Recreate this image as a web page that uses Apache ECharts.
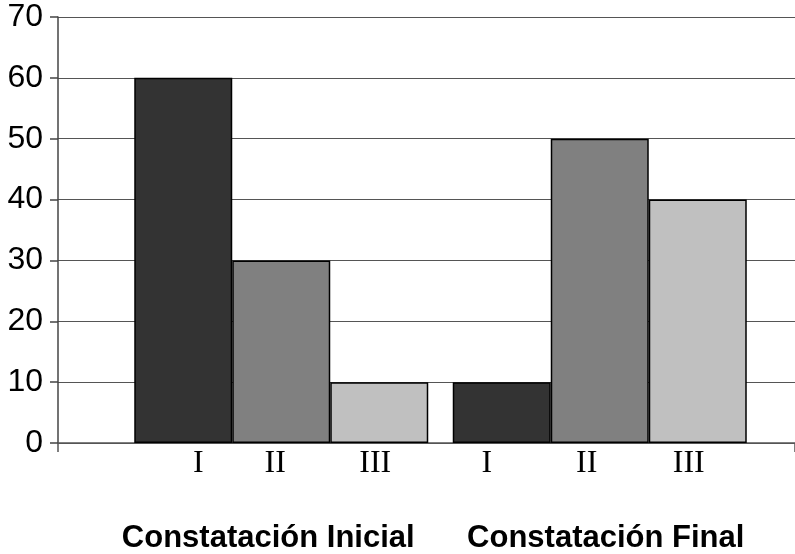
<!DOCTYPE html>
<html>
<head>
<meta charset="utf-8">
<script src="https://cdn.jsdelivr.net/npm/echarts@6/dist/echarts.min.js"></script>
<style>html,body{margin:0;padding:0;background:#fff}#c{width:795px;height:554px}</style>
</head>
<body>
<div id="c"></div>
<script>
const categories = ['Constatación Inicial', 'Constatación Final'];
const seriesNames = ['I', 'II', 'III'];
const valuesI = [60, 10];
const valuesII = [30, 50];
const valuesIII = [10, 40];
const yTicks = { min: 0, max: 70, interval: 10 };

const colors = ['#333333', '#808080', '#c0c0c0'];
const labelShift = [[15, -15], [-6, -13], [-4, -9]];
const seriesValues = [valuesI, valuesII, valuesIII];

const chart = echarts.init(document.getElementById('c'));
const series = seriesNames.map((name, si) => ({
  name,
  type: 'bar',
  xAxisIndex: 1,
  yAxisIndex: 1,
  barWidth: 98,
  barGap: '0%',
  data: seriesValues[si].map((v, ci) => ({
    value: v,
    label: { offset: [labelShift[si][ci], 0] }
  })),
  itemStyle: { color: colors[si], borderColor: '#000', borderWidth: 1.5 },
  label: {
    show: true,
    position: 'bottom',
    distance: 5,
    formatter: () => name,
    fontFamily: '"Liberation Serif", "Times New Roman", serif',
    fontSize: 32,
    color: '#000'
  },
  silent: true,
  animation: false
}));

chart.setOption({
  animation: false,
  grid: [
    { left: 58, right: 0, top: 17, bottom: 111 },
    { left: 122, right: 36, top: 17, bottom: 111 }
  ],
  xAxis: [
    {
      gridIndex: 0, type: 'value', min: 0, max: 1, interval: 1,
      axisLine: { show: true, lineStyle: { color: '#555', width: 1.5 } },
      axisTick: { show: true, length: 9, lineStyle: { color: '#555', width: 1.5 } },
      axisLabel: { show: false }, splitLine: { show: false }
    },
    {
      gridIndex: 1, type: 'category', data: categories,
      axisLine: { show: false }, axisTick: { show: false },
      axisLabel: {
        margin: 80,
        formatter: (v, i) => (i === 0 ? '{a|' + v + '}' : '{b|' + v + '}'),
        rich: {
          a: { fontFamily: '"Liberation Sans", Arial, sans-serif', fontWeight: 'bold', fontSize: 31, color: '#000', padding: [0, 26, 0, 0] },
          b: { fontFamily: '"Liberation Sans", Arial, sans-serif', fontWeight: 'bold', fontSize: 31, color: '#000', padding: [0, 0, 0, 12] }
        }
      }
    }
  ],
  yAxis: [
    {
      gridIndex: 0, type: 'value', min: yTicks.min, max: yTicks.max, interval: yTicks.interval,
      axisLine: { show: true, lineStyle: { color: '#444', width: 1.5 } },
      axisTick: { show: true, length: 8, lineStyle: { color: '#444', width: 1.5 } },
      axisLabel: { margin: 15, fontFamily: '"Liberation Sans", Arial, sans-serif', fontSize: 32, color: '#000' },
      splitLine: { show: true, lineStyle: { color: '#555', width: 1.2 } }
    },
    {
      gridIndex: 1, type: 'value', min: yTicks.min, max: yTicks.max, interval: yTicks.interval,
      show: false
    }
  ],
  series
});
</script>
</body>
</html>
